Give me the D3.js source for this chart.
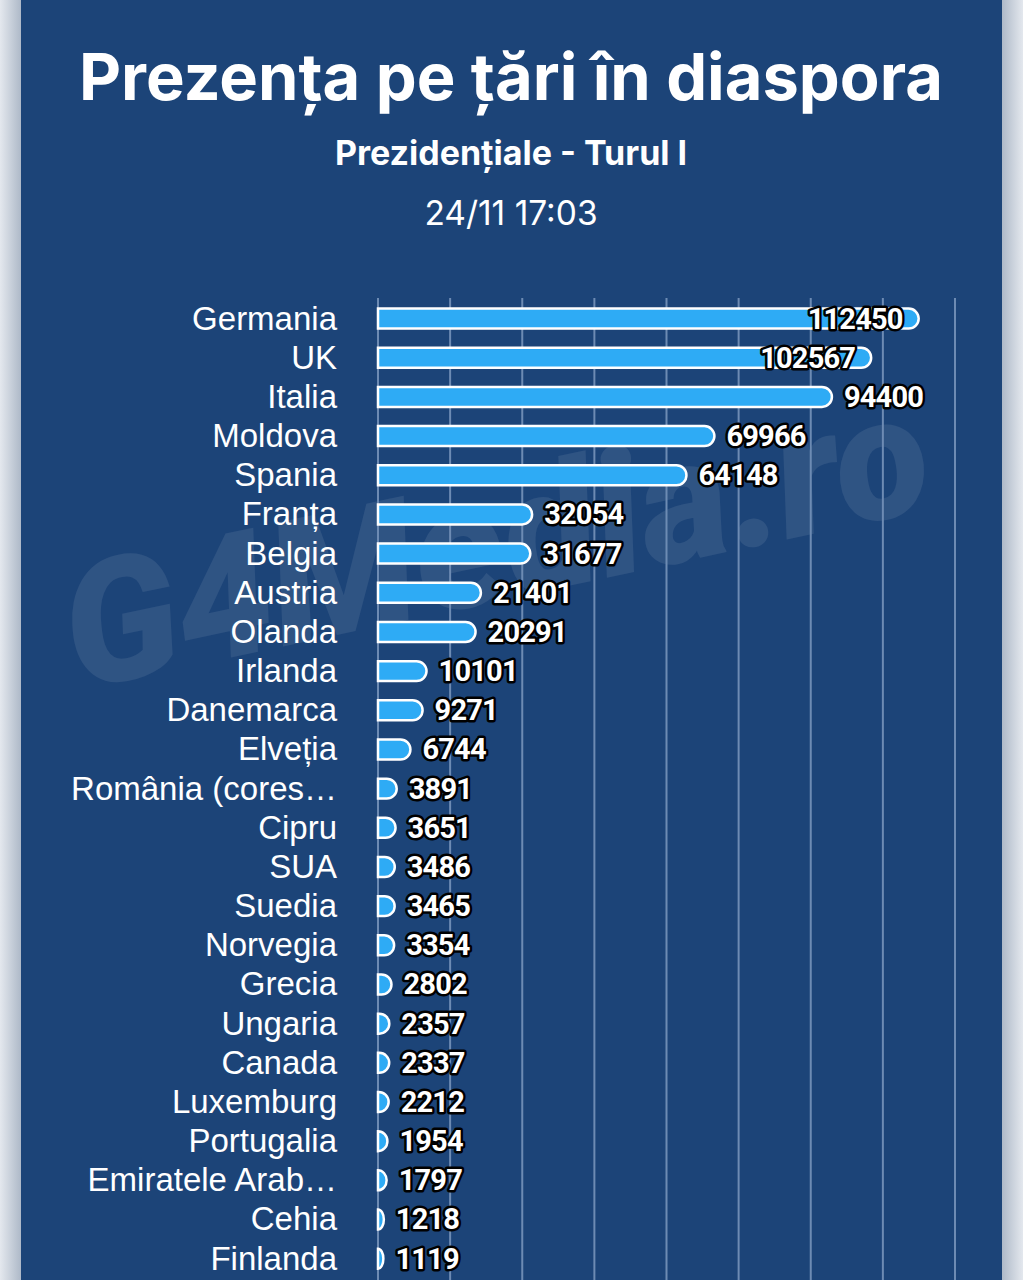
<!DOCTYPE html>
<html>
<head>
<meta charset="utf-8">
<title>Prezența pe țări în diaspora</title>
<script src="https://cdn.jsdelivr.net/npm/d3@7"></script>
<style>
  body { margin: 0; background: #d9dee5; }
  svg { display: block; }
  .country { fill: #fff; font: 33px "Liberation Sans", Arial, sans-serif; }
  .val {
    fill: #fff; stroke: #000; stroke-width: 5px; paint-order: stroke;
    stroke-linejoin: round;
    font: bold 29px Roboto, sans-serif; letter-spacing: -0.8px;
  }
</style>
</head>
<body>
<script>
var countries = ["Germania", "UK", "Italia", "Moldova", "Spania", "Franța", "Belgia",
  "Austria", "Olanda", "Irlanda", "Danemarca", "Elveția", "România (cores…", "Cipru",
  "SUA", "Suedia", "Norvegia", "Grecia", "Ungaria", "Canada", "Luxemburg", "Portugalia",
  "Emiratele Arab…", "Cehia", "Finlanda"];
var votes = [112450, 102567, 94400, 69966, 64148, 32054, 31677, 21401, 20291, 10101,
  9271, 6744, 3891, 3651, 3486, 3465, 3354, 2802, 2357, 2337, 2212, 1954, 1797, 1218, 1119];
var gridTicks = [0, 15000, 30000, 45000, 60000, 75000, 90000, 105000, 120000];

var width = 1023, height = 1280;

var svg = d3.select("body").append("svg")
    .attr("width", width)
    .attr("height", height);

// side shadows + panel
var defs = svg.append("defs");
var grad = defs.append("linearGradient").attr("id", "side");
grad.append("stop").attr("offset", "0%").attr("stop-color", "#e4e8ee");
grad.append("stop").attr("offset", "100%").attr("stop-color", "#aeb9c8");
svg.append("rect").attr("x", 0).attr("y", 0).attr("width", 21).attr("height", height)
    .attr("fill", "url(#side)");
svg.append("rect").attr("x", 1002).attr("y", 0).attr("width", 21).attr("height", height)
    .attr("fill", "url(#side)").attr("transform", "translate(2025,0) scale(-1,1)");
svg.append("rect").attr("x", 21).attr("y", 0).attr("width", 981).attr("height", height)
    .attr("fill", "#1c4478");

// watermark
svg.append("text")
    .attr("x", 495).attr("y", 600)
    .attr("text-anchor", "middle")
    .attr("transform", "rotate(-12,495,540)")
    .style("font", "italic 900 172px Roboto, sans-serif")
    .style("fill", "#fff")
    .style("fill-opacity", 0.085)
    .text("G4Media.ro");

// titles
svg.append("text").attr("x", 511).attr("y", 100).attr("text-anchor", "middle")
    .style("font", "bold 65px Inter, sans-serif").style("fill", "#fff")
    .text("Prezența pe țări în diaspora");
svg.append("text").attr("x", 511).attr("y", 165).attr("text-anchor", "middle")
    .style("font", "bold 34px Inter, sans-serif").style("fill", "#fff")
    .text("Prezidențiale - Turul I");
svg.append("text").attr("x", 511).attr("y", 225).attr("text-anchor", "middle")
    .style("font", "33.5px Inter, sans-serif").style("fill", "#fff")
    .text("24/11 17:03");

var x = d3.scaleLinear().domain([0, 120000]).range([378, 955]);
var y = d3.scaleBand().domain(countries).range([299, 299 + 39.17 * countries.length])
    .paddingInner(0.49).paddingOuter(0.245);

// grid
svg.append("g").selectAll("line")
    .data(gridTicks)
    .enter().append("line")
    .attr("x1", function(d) { return x(d); })
    .attr("x2", function(d) { return x(d); })
    .attr("y1", 298).attr("y2", height)
    .attr("stroke", "#6d8bb3")
    .attr("stroke-width", 2);

// bars with rounded right end
var bh = y.bandwidth();
svg.append("g").selectAll("path")
    .data(countries)
    .enter().append("path")
    .attr("d", function(d, i) {
      var x0 = x(0), x1 = x(votes[i]), y0 = y(d), r = bh / 2;
      var w = x1 - x0;
      if (w < r) r = Math.max(w, 1);
      return "M" + x0 + "," + y0 + "H" + (x1 - r) +
        "A" + r + "," + (bh / 2) + " 0 0,1 " + (x1 - r) + "," + (y0 + bh) +
        "H" + x0 + "Z";
    })
    .attr("fill", "#2eabf5")
    .attr("stroke", "#fff")
    .attr("stroke-width", 2.5);

// country labels
svg.append("g").selectAll("text")
    .data(countries)
    .enter().append("text")
    .attr("class", "country")
    .attr("x", 337)
    .attr("y", function(d) { return y(d) + bh / 2 + 11; })
    .attr("text-anchor", "end")
    .text(function(d) { return d; });

// value labels
svg.append("g").selectAll("text")
    .data(countries)
    .enter().append("text")
    .attr("class", "val")
    .attr("y", function(d) { return y(d) + bh / 2 + 10; })
    .each(function(d, i) {
      var t = d3.select(this).text(votes[i]);
      var end = x(votes[i]);
      var w = this.getComputedTextLength();
      if (end + 12 + w > x(120000)) {
        t.attr("x", end - 16).attr("text-anchor", "end");
      } else {
        t.attr("x", end + 12).attr("text-anchor", "start");
      }
    });
</script>
</body>
</html>
